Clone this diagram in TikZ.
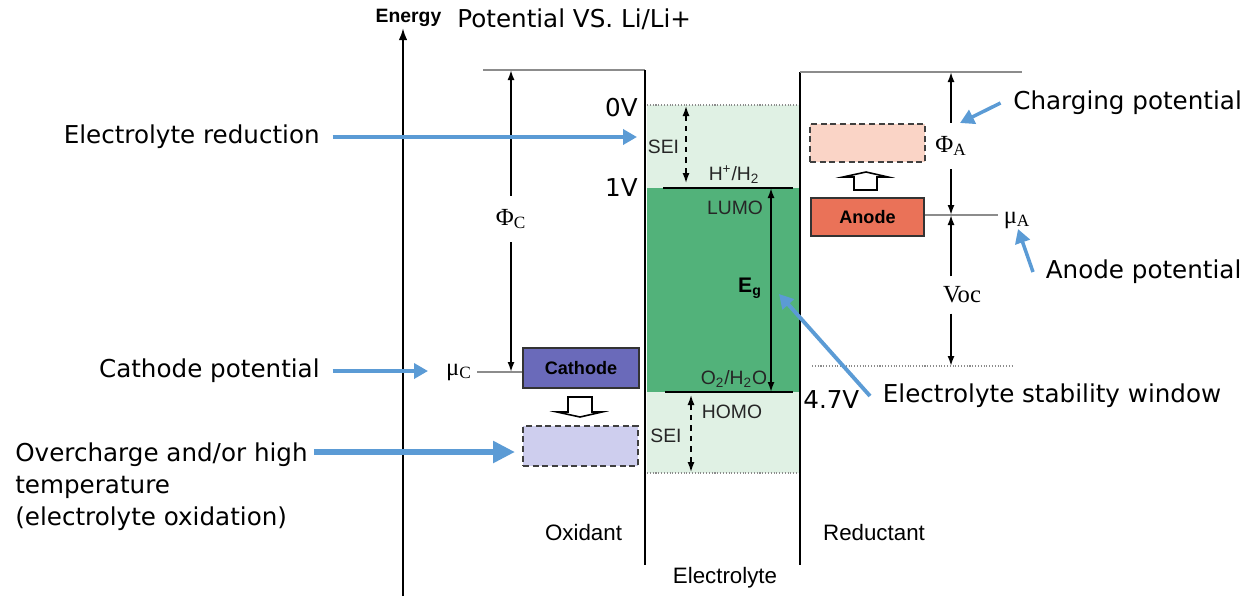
\documentclass[tikz,border=0pt]{standalone}
\usepackage{fontspec}
\newfontfamily\annfont{DejaVu Sans}
\newfontfamily\arialfont{Liberation Sans}
\newfontfamily\timesfont{Liberation Serif}
\usetikzlibrary{positioning, arrows.meta}

\definecolor{annblue}{RGB}{91,155,213}
\definecolor{greendark}{RGB}{82,178,122}
\definecolor{greenlight}{RGB}{224,241,228}
\definecolor{cathfill}{RGB}{106,106,186}
\definecolor{cathlight}{RGB}{206,206,238}
\definecolor{anodefill}{RGB}{234,114,88}
\definecolor{anodelight}{RGB}{250,212,198}

\begin{document}
\begin{tikzpicture}[
    >={Latex[length=2mm,width=1.4mm]},
    ann/.style      = {font=\annfont\fontsize{14}{18.2}\selectfont, inner xsep=0.25cm, inner ysep=2pt},
    lbl/.style      = {font=\arialfont\fontsize{12.7}{15}\selectfont},
    small/.style    = {font=\arialfont\fontsize{11}{13}\selectfont, text=black!85, inner sep=1pt},
    greek/.style    = {font=\timesfont\fontsize{14}{16}\selectfont, inner xsep=0.1cm, inner ysep=0.2cm},
    solidbox/.style = {rectangle, draw=black!80, line width=1pt, font=\arialfont\bfseries\fontsize{10.3}{12}\selectfont},
    ghostbox/.style = {rectangle, draw=black!75, line width=1pt, dash pattern=on 3.5pt off 2pt},
    hollow/.style   = {draw=black, line width=0.9pt, fill=white},
    gline/.style    = {draw=black!45, line width=0.6pt},
    dotline/.style  = {draw=black!45, line width=0.6pt, densely dotted},
    blk/.style      = {draw=black, line width=1pt},
    bluearr/.style  = {draw=annblue, line width=2.2pt, -{Triangle[length=2.8mm,width=3mm]}},
]
\useasboundingbox (0,0) rectangle (25.04,-11.92);

% energy axis
\coordinate (ebot) at (8.06,-11.92);
\coordinate (etop) at (8.06,-0.56);
\draw[blk, line width=1.2pt, -{Latex[length=2.4mm,width=1.7mm]}] (ebot) -- (etop);
\node[font=\arialfont\bfseries\fontsize{11}{13}\selectfont, anchor=base] (energy) at (8.17,-0.44) {Energy};
\node[ann, anchor=base west, inner xsep=0pt] (potential) at (9.14,-0.54) {Potential VS. Li/Li+};

% electrolyte bands
\fill[greenlight] (12.94,-2.10) rectangle (15.98,-3.76);
\fill[greendark]  (12.94,-3.76) rectangle (15.98,-7.84);
\fill[greenlight] (12.94,-7.84) rectangle (15.98,-9.46);
\draw[dotline] (12.94,-2.10) -- (15.98,-2.10);
\draw[dotline] (12.94,-9.46) -- (15.98,-9.46);

% electrodes
\coordinate (topL)   at (9.66,-1.40);
\coordinate (elL)    at (12.9,-1.40);
\coordinate (elLbot) at (12.9,-11.30);
\coordinate (elR)    at (16.0,-1.44);
\coordinate (topR)   at (20.44,-1.44);
\coordinate (elRbot) at (16.0,-11.30);
\draw[gline] (topL) -- (elL);
\draw[blk] (elL) -- (elLbot);
\draw[blk] (elR) -- (elRbot);
\draw[gline] (elR) -- (topR);

% LUMO / HOMO levels
\coordinate (lumoL) at (13.26,-3.76);
\coordinate (lumoR) at (15.86,-3.76);
\coordinate (homoL) at (13.30,-7.84);
\coordinate (homoR) at (15.86,-7.84);
\draw[blk] (lumoL) -- (lumoR);
\draw[blk] (homoL) -- (homoR);
\node[small] (hh)   at (14.68,-3.50) {H\textsuperscript{+}/H\textsubscript{2}};
\node[small] (lumo) at (14.70,-4.16) {LUMO};
\node[small] (oh)   at (14.68,-7.58) {O\textsubscript{2}/H\textsubscript{2}O};
\node[small] (homo) at (14.64,-8.24) {HOMO};
\node[small] (seiA) at (13.27,-2.94) {SEI};
\node[small] (seiB) at (13.32,-8.72) {SEI};

% SEI ranges
\coordinate (seiAtop) at (13.72,-2.12);
\coordinate (seiAbot) at (13.72,-3.66);
\coordinate (seiBtop) at (13.82,-7.90);
\coordinate (seiBbot) at (13.82,-9.44);
\draw[blk, line width=0.8pt, dashed, <->] (seiAtop) -- (seiAbot);
\draw[blk, line width=0.8pt, dashed, <->] (seiBtop) -- (seiBbot);

% band gap
\coordinate (egtop) at (15.42,-3.76);
\coordinate (egbot) at (15.42,-7.84);
\draw[blk, <->] (egtop) -- (egbot);
\node[font=\arialfont\bfseries\fontsize{12}{14}\selectfont] (eg) at (15.0,-5.76) {E\textsubscript{g}};

% voltages
\node[ann, inner sep=0pt, anchor=east] (v0)  at (12.76,-2.16) {0V};
\node[ann, inner sep=0pt, anchor=east] (v1)  at (12.76,-3.76) {1V};
\node[ann, inner sep=0pt, anchor=west] (v47) at (16.06,-8.00) {4.7V};

% cathode side
\node[solidbox, fill=cathfill, minimum width=2.32cm, minimum height=0.8cm] (cathode) at (11.62,-7.36) {Cathode};
\node[ghostbox, fill=cathlight, minimum width=2.30cm, minimum height=0.8cm] (cathox) at (11.61,-8.92) {};
\draw[hollow] (11.36,-7.94) -- (11.84,-7.94) -- (11.84,-8.24) -- (12.04,-8.24) -- (11.60,-8.34) -- (11.14,-8.24) -- (11.36,-8.24) -- cycle;
\node[greek] (muC) at (9.18,-7.44) {μ\textsubscript{C}};
\draw[gline] (muC) -- (muC -| cathode.west);
\node[greek, inner ysep=0.26cm] (phiC) at (10.22,-4.38) {Φ\textsubscript{C}};
\draw[blk, ->] (phiC) -- (phiC |- topL);
\draw[blk, ->] (phiC) -- (phiC |- muC);

% anode side
\node[solidbox, fill=anodefill, minimum width=2.26cm, minimum height=0.76cm] (anode) at (17.35,-4.34) {Anode};
\node[ghostbox, fill=anodelight, minimum width=2.30cm, minimum height=0.76cm] (anox) at (17.35,-2.86) {};
\draw[hollow] (17.08,-3.80) -- (17.54,-3.80) -- (17.54,-3.54) -- (17.76,-3.54) -- (17.32,-3.44) -- (16.86,-3.54) -- (17.08,-3.54) -- cycle;
\coordinate (axA) at (19.02,-4.30);
\node[greek] (muA) at (20.34,-4.40) {μ\textsubscript{A}};
\draw[gline] (anode.east |- axA) -- (muA.west |- axA);
\node[greek, inner ysep=0.26cm] (phiA) at (19.02,-2.92) {Φ\textsubscript{A}};
\draw[blk, ->] (phiA) -- (phiA |- topR);
\draw[blk, ->] (phiA) -- (axA);
\node[greek] (voc) at (19.24,-5.90) {Voc};
\coordinate (ocvL) at (16.24,-7.32);
\coordinate (ocvR) at (20.26,-7.32);
\draw[dotline] (ocvL) -- (ocvR);
\draw[blk, ->] (voc.north -| axA) -- (axA);
\draw[blk, ->] (voc.south -| axA) -- (axA |- ocvL);

% annotations, left
\node[ann, anchor=east] (redtxt) at (6.65,-2.74) {Electrolyte reduction};
\coordinate (redtip) at (12.74,-2.74);
\draw[bluearr] (redtxt) -- (redtip);
\node[ann, anchor=east] (cattxt) at (6.65,-7.42) {Cathode potential};
\coordinate (cattip) at (8.56,-7.42);
\draw[bluearr] (cattxt) -- (cattip);
\node[ann, anchor=north west, align=left, inner xsep=0.12cm] (overtxt) at (0.18,-8.78) {Overcharge and/or high\\temperature\\(electrolyte oxidation)};
\coordinate (overtip) at (10.30,-9.04);
\draw[bluearr, line width=3.4pt, -{Triangle[length=4.4mm,width=4.2mm]}] (overtxt.east |- overtip) -- (overtip);

% annotations, right
\node[ann, anchor=west] (chgtxt) at (20.01,-2.06) {Charging potential};
\coordinate (chgtip) at (19.20,-2.46);
\draw[bluearr, line width=2pt] (chgtxt.west) -- (chgtip);
\node[ann, anchor=west] (anotxt) at (20.66,-5.44) {Anode potential};
\coordinate (anotip) at (20.36,-4.58);
\draw[bluearr, line width=2pt] (anotxt.west) -- (anotip);
\node[ann, anchor=west] (stabtxt) at (17.40,-7.92) {Electrolyte stability window};
\coordinate (stabtip) at (15.58,-5.88);
\draw[bluearr] (stabtxt.west) -- (stabtip);

% bottom captions
\node[lbl] (oxid)  at (11.67,-10.66) {Oxidant};
\node[lbl] (reduc) at (17.48,-10.66) {Reductant};
\node[lbl] (elyte) at (14.50,-11.56) {Electrolyte};

\end{tikzpicture}
\end{document}
